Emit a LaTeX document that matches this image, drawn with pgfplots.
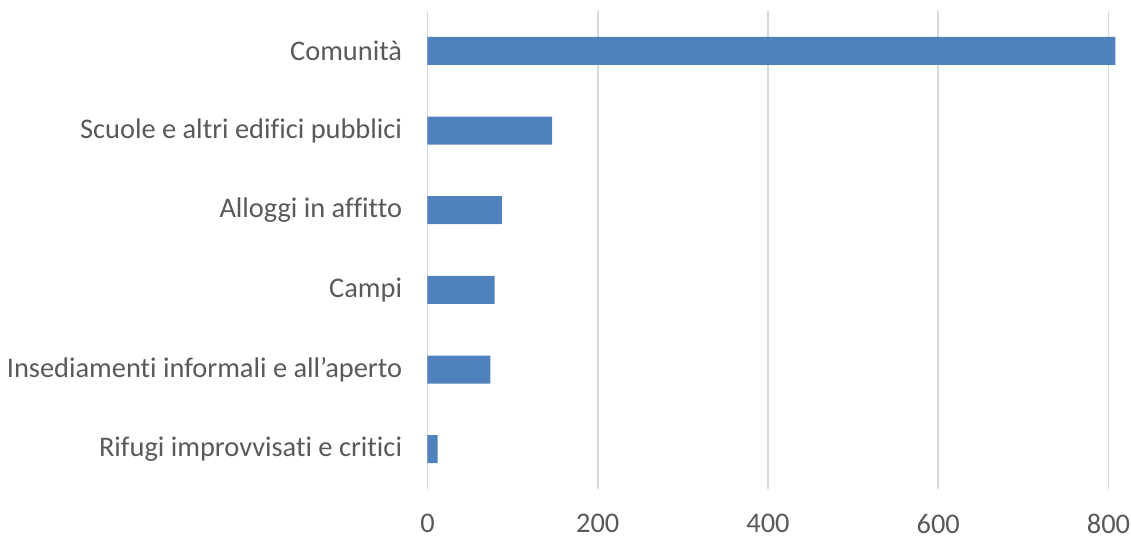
\documentclass[border=0pt]{standalone}
\usepackage{fontspec}
\setmainfont[Ligatures=NoCommon]{Carlito}
\usepackage{pgfplots}
\pgfplotsset{compat=1.18}
\definecolor{barblue}{HTML}{4F81BD}
\definecolor{txtgray}{HTML}{595959}
\definecolor{gridgray}{HTML}{D9D9D9}
\begin{document}
\begin{tikzpicture}
\path (-213.75pt,-24.5pt) rectangle (351.75pt,244.5pt);
\begin{axis}[
  scale only axis,
  width=349pt, height=239pt,
  at={(0,0)}, anchor=south west,
  xbar, bar width=14pt,
  xmin=0, xmax=820,
  ymin=-0.5, ymax=5.5,
  xtick={0,200,400,600,800},
  ytick={0,1,2,3,4,5},
  yticklabels={Rifugi improvvisati e critici, Insediamenti informali e all’aperto, Campi, Alloggi in affitto, Scuole e altri edifici pubblici, Comunità},
  axis line style={draw=none},
  major tick length=0pt,
  xmajorgrids, grid style={gridgray, line width=0.8pt},
  ticklabel style={font=\fontsize{14.2}{16}\selectfont, text=txtgray},
  /pgf/number format/assume math mode=true,
  yticklabel style={anchor=east, inner sep=0pt, xshift=-12.5pt},
  xticklabel style={anchor=north, inner sep=0pt, yshift=-12.5pt},
  clip=false,
]
\addplot[fill=barblue, draw=none] coordinates {(12,0) (74,1) (79,2) (87.5,3) (146.5,4) (808,5)};
\end{axis}
\end{tikzpicture}
\end{document}
